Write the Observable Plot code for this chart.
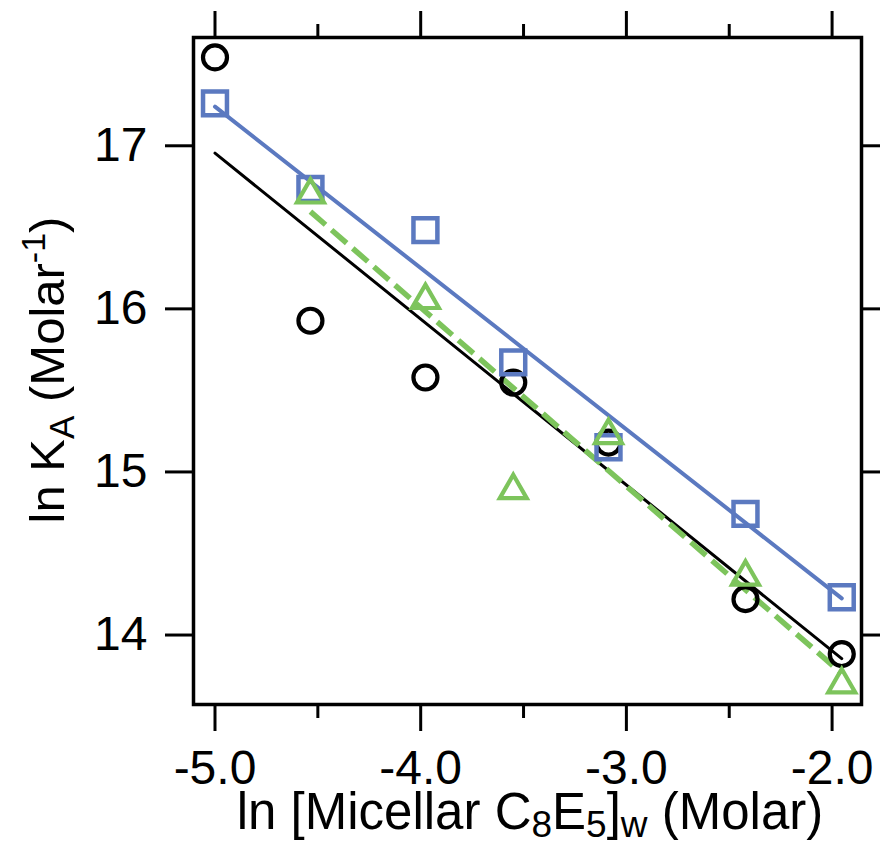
<!DOCTYPE html>
<html>
<head>
<meta charset="utf-8">
<script src="https://cdn.jsdelivr.net/npm/d3@7"></script>
<script src="https://cdn.jsdelivr.net/npm/@observablehq/plot@0.6"></script>
<style>
  html, body { margin: 0; padding: 0; background: #fff; }
  #chart { width: 883px; height: 849px; }
</style>
</head>
<body>
<div id="chart"></div>
<script>
// ---- data ----
const xVals      = [-5.00, -4.536, -3.977, -3.55, -3.087, -2.421, -1.953];
const circleY    = [17.542, 15.927, 15.579, 15.548, 15.18, 14.22, 13.883];
const squareY    = [17.26, 16.735, 16.483, 15.672, 15.151, 14.743, 14.232];
const triangleY  = [null, 16.70, 16.053, 14.887, 15.225, 14.357, 13.696];

const fitBlackX  = [-5.0, -1.953];
const fitBlackY  = [16.955, 13.855];
const fitBlueX   = [-5.0, -1.953];
const fitBlueY   = [17.24, 14.225];
const fitGreenX  = [-4.536, -1.953];
const fitGreenY  = [16.596, 13.765];

const xMajorTicks = [-5, -4, -3, -2];
const xMinorTicks = [-4.5, -3.5, -2.5];
const yTicks      = [14, 15, 16, 17];

const xDomain = [-5.1045, -1.857];
const yDomain = [13.574, 17.664];

// ---- build tables ----
const pts = (ys) => xVals.map((x, i) => ({x, y: ys[i]})).filter(d => d.y != null);
const seg = (xs, ys) => xs.map((x, i) => ({x, y: ys[i]}));

const BLUE = "#5b79c0";
const GREEN = "#7dc45c";
const FONT = "'Liberation Sans', Arial, Helvetica, sans-serif";

const chart = Plot.plot({
  width: 883,
  height: 849,
  marginLeft: 193,
  marginRight: 22,
  marginTop: 37,
  marginBottom: 145,
  x: {domain: xDomain},
  y: {domain: yDomain},
  style: {fontFamily: FONT, fontSize: "48px", color: "black", background: "white"},
  marks: [
    Plot.line(seg(fitBlackX, fitBlackY), {x: "x", y: "y", stroke: "black", strokeWidth: 3}),
    Plot.line(seg(fitBlueX, fitBlueY), {x: "x", y: "y", stroke: BLUE, strokeWidth: 4}),
    Plot.line(seg(fitGreenX, fitGreenY), {x: "x", y: "y", stroke: GREEN, strokeWidth: 5.5, strokeDasharray: "20,8", strokeLinecap: "butt"}),
    Plot.dot(pts(circleY), {x: "x", y: "y", symbol: "circle", r: 12, stroke: "black", strokeWidth: 4.2, fill: "none"}),
    Plot.dot(pts(squareY), {x: "x", y: "y", symbol: "square", r: 13.5, stroke: BLUE, strokeWidth: 4.5, fill: "none"}),
    Plot.dot(pts(triangleY), {x: "x", y: "y", symbol: "triangle", r: 10, stroke: GREEN, strokeWidth: 4.2, fill: "none"}),
    Plot.frame({stroke: "black", strokeWidth: 3.5}),
    Plot.axisX(xMajorTicks, {anchor: "bottom", tickSize: 27, tickPadding: 18, strokeWidth: 3, fontSize: 48,
      tickFormat: d => d.toFixed(1), label: null}),
    Plot.axisX(xMinorTicks, {anchor: "bottom", tickSize: 14, strokeWidth: 3, tickFormat: () => "", label: null}),
    Plot.axisX(xMajorTicks, {anchor: "top", tickSize: 27, strokeWidth: 3, tickFormat: () => "", label: null}),
    Plot.axisX(xMinorTicks, {anchor: "top", tickSize: 14, strokeWidth: 3, tickFormat: () => "", label: null}),
    Plot.axisY(yTicks, {anchor: "left", tickSize: 28, tickPadding: 18, strokeWidth: 3, fontSize: 48,
      tickFormat: d => String(d), label: null}),
    Plot.axisY(yTicks, {anchor: "right", tickSize: 18, strokeWidth: 3, tickFormat: () => "", label: null})
  ]
});

document.getElementById("chart").appendChild(chart);

// ---- axis titles with sub/superscripts ----
const svg = d3.select(chart);

const xl = svg.append("text")
  .attr("x", 530).attr("y", 829)
  .attr("text-anchor", "middle")
  .attr("font-family", FONT).attr("font-size", 51).attr("fill", "black");
xl.append("tspan").text("ln [Micellar C");
xl.append("tspan").attr("font-size", 37).attr("dy", 8).text("8");
xl.append("tspan").attr("dy", -8).text("E");
xl.append("tspan").attr("font-size", 37).attr("dy", 8).text("5");
xl.append("tspan").attr("dy", -8).text("]");
xl.append("tspan").attr("font-size", 37).attr("dy", 8).text("w");
xl.append("tspan").attr("dy", -8).text(" (Molar)");

const yl = svg.append("text")
  .attr("transform", "translate(64,370) rotate(-90)")
  .attr("text-anchor", "middle")
  .attr("font-family", FONT).attr("font-size", 49).attr("fill", "black");
yl.append("tspan").text("ln K");
yl.append("tspan").attr("font-size", 35).attr("dy", 10).text("A");
yl.append("tspan").attr("dy", -10).text(" (Molar");
yl.append("tspan").attr("font-size", 34).attr("dy", -19).text("-1");
yl.append("tspan").attr("dy", 19).text(")");
</script>
</body>
</html>
